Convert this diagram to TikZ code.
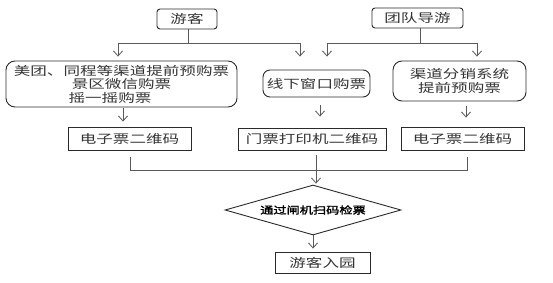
\documentclass[tikz,border=0pt]{standalone}
\usepackage{fontspec}
\newfontfamily\cjk{Noto Sans CJK SC}[FakeStretch=1.38]
\newfontfamily\cjkb{Noto Sans CJK SC}[FakeStretch=1.32,FakeBold=2]
\usetikzlibrary{arrows.meta,shapes.geometric}
\definecolor{linegray}{HTML}{5A5A5A}
\definecolor{boxline}{HTML}{2A2A2A}
\definecolor{txt}{HTML}{333333}
\tikzset{
  boxbase/.style={draw=boxline,line width=0.9pt,inner sep=0pt,text=txt,
    font=\cjk\fontsize{12}{13.5}\selectfont,align=center},
  rbox/.style={boxbase,rectangle,rounded corners=#1},
  rbox/.default=8pt,
  sbox/.style={boxbase,rectangle},
  dbox/.style={boxbase,diamond,aspect=3.5,font=\cjkb\fontsize{10}{12}\selectfont,text=black},
  conn/.style={draw=linegray,line width=0.9pt},
  arr/.style={conn,-{Straight Barb[length=5pt,width=9pt,line width=0.8pt]}}
}
\begin{document}
\begin{tikzpicture}[x=1pt,y=-1pt]
\useasboundingbox (0,0) rectangle (553,283);
% top boxes
\node[rbox=3pt,minimum width=60pt,minimum height=20pt] (yk) at (187,19) {游客};
\node[rbox=3pt,minimum width=91pt,minimum height=20pt] (td) at (417.5,18) {团队导游};
% second row
\node[rbox=9pt,minimum width=231pt,minimum height=46pt] (b1) at (121.5,84)
  {美团、同程等渠道提前预购票\\景区微信购票\hspace*{13pt}\\摇一摇购票\hspace*{23pt}};
\node[rbox=7pt,minimum width=107pt,minimum height=27pt] (b2) at (316.5,83.5) {线下窗口购票};
\node[rbox=9pt,minimum width=133pt,minimum height=40pt] (b3) at (459.5,81) {渠道分销系统\\提前预购票};
% third row
\node[sbox,minimum width=123pt,minimum height=23pt] (e1) at (129.5,138.5) {电子票二维码};
\node[sbox,minimum width=148pt,minimum height=22pt] (e2) at (312,139) {门票打印机二维码};
\node[sbox,minimum width=123pt,minimum height=23pt] (e3) at (462.5,138.5) {电子票二维码};
% diamond and end
\node[dbox,minimum width=176pt,minimum height=50pt] (dm) at (313,210) {通过闸机扫码检票};
\node[sbox,minimum width=95pt,minimum height=21pt] (end) at (322.5,262.5) {游客入园};
% junction coordinates
\coordinate (j1) at (188,43);
\coordinate (j1l) at (118,43);
\coordinate (j1r) at (300,43);
\coordinate (j2) at (420,43);
\coordinate (j2l) at (327,43);
\coordinate (j2r) at (477,43);
\coordinate (jb) at (316,170);
\coordinate (jbl) at (130,170);
\coordinate (jbr) at (467,170);
% connectors from top boxes
\draw[conn] (yk.south -| j1) -- (j1);
\draw[conn] (j1l) -- (j1r);
\draw[arr] (j1l) -- ([yshift=4pt]b1.north -| j1l);
\draw[arr] (j1r) -- ([yshift=13pt]b2.north -| j1r);
\draw[conn] (td.south -| j2) -- (j2);
\draw[conn] (j2l) -- (j2r);
\draw[arr] (j2l) -- ([yshift=13pt]b2.north -| j2l);
\draw[arr] (j2r) -- ([yshift=4pt]b3.north -| j2r);
% second to third row
\coordinate (a1) at (123,0);
\coordinate (a2) at (320,0);
\coordinate (a3) at (466,0);
\draw[arr] ([yshift=-1pt]b1.south -| a1) -- ([yshift=5pt]e1.north -| a1);
\draw[arr] ([yshift=-8pt]b2.south -| a2) -- ([yshift=11pt]e2.north -| a2);
\draw[arr] ([yshift=-5pt]b3.south -| a3) -- ([yshift=9pt]e3.north -| a3);
% merge
\draw[conn] ([yshift=-7pt]e1.south -| jbl) -- (jbl) -- (jbr) -- ([yshift=-7pt]e3.south -| jbr);
\draw[arr] ([yshift=-5pt]e2.south -| jb) -- ([yshift=1pt]dm.north -| jb);
\draw[arr] (dm.south) -- ([yshift=3pt]end.north -| dm.south);
\end{tikzpicture}
\end{document}
